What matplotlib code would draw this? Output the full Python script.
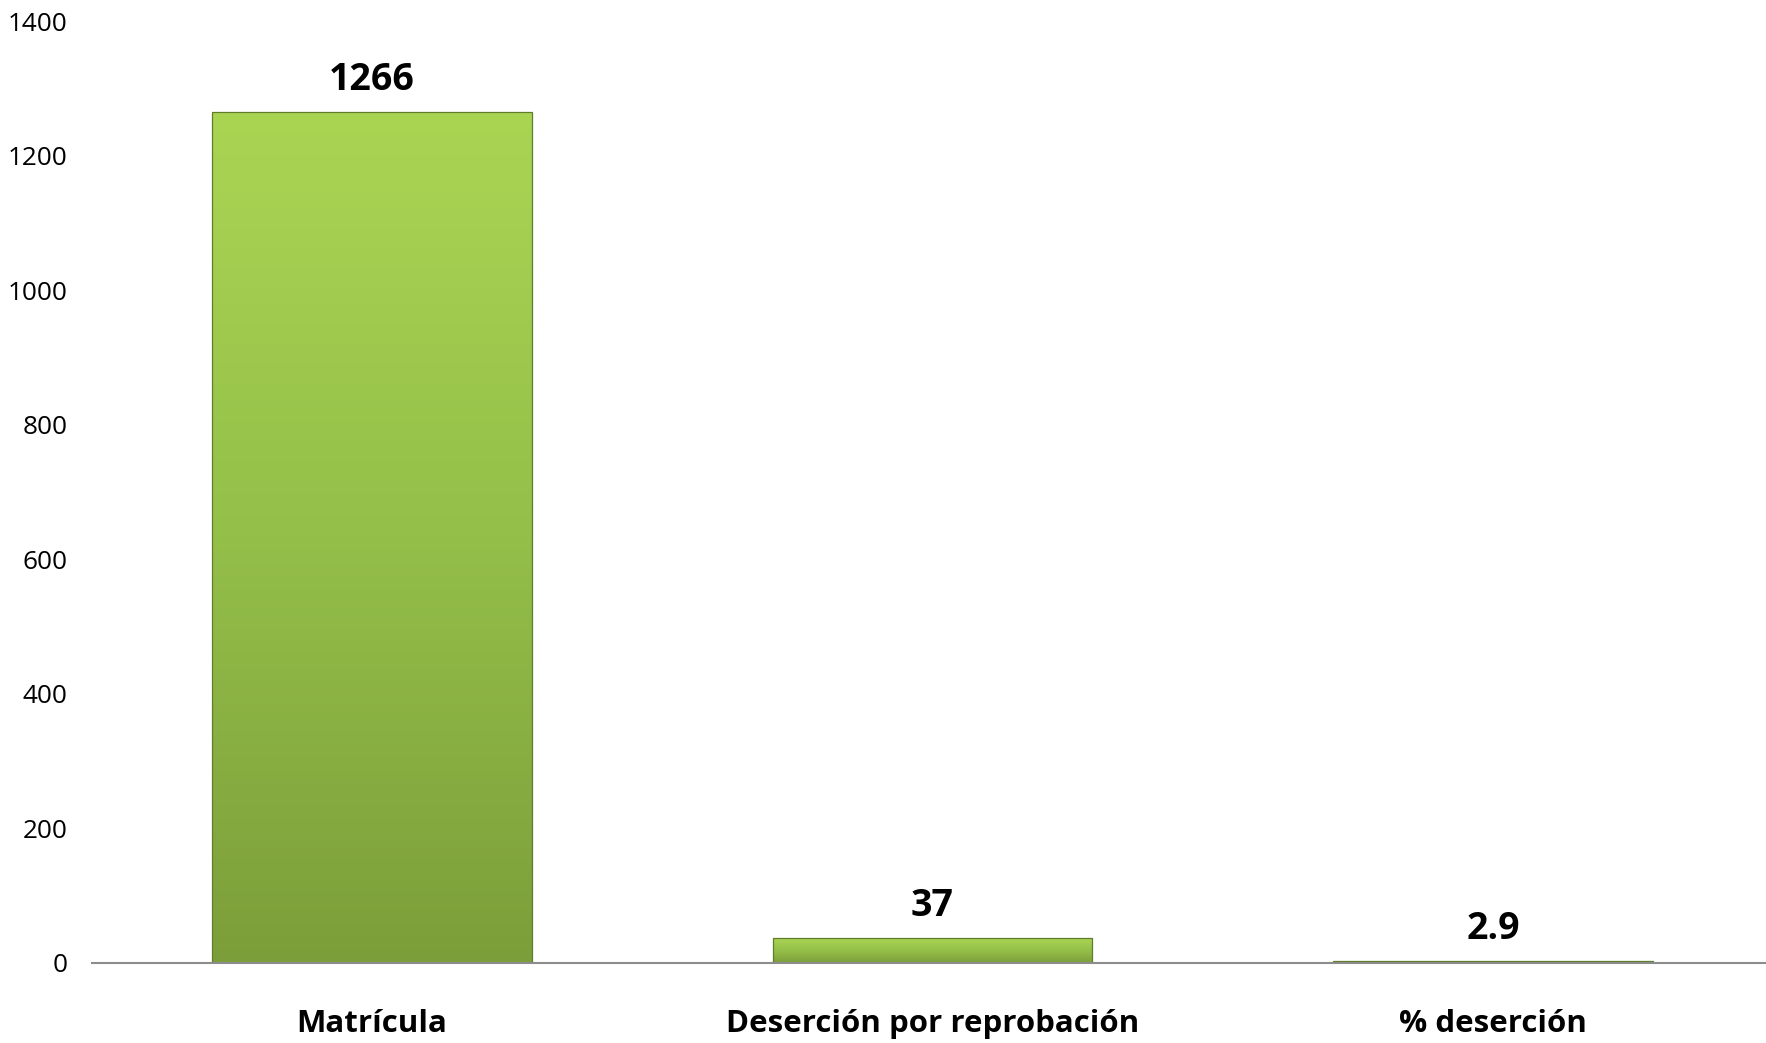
import numpy as np
import matplotlib.pyplot as plt
from matplotlib.colors import LinearSegmentedColormap

# Data
categorias = ['Matrícula', 'Deserción por reprobación', '% deserción']
valores = [1266, 37, 2.9]
etiquetas = ['1266', '37', '2.9']

plt.rcParams['font.family'] = ['Open Sans', 'DejaVu Sans']

fig = plt.figure(figsize=(17.66, 10.43), dpi=100)
ax = fig.add_axes([92/1766, 80/1043, 1681/1766, 941.6/1043])

x = np.arange(len(categorias))
ancho = 0.571
bars = ax.bar(x, valores, width=ancho, color='none', edgecolor='#5f7d2a',
              linewidth=0.9, zorder=3)

# vertical gradient, light on top, dark at bottom
cmap = LinearSegmentedColormap.from_list('verde', ['#7c9e3a', '#94bf49', '#aad553'])
grad = np.linspace(0, 1, 256).reshape(-1, 1)
for b in bars:
    x0, y0 = b.get_x(), b.get_y()
    w, h = b.get_width(), b.get_height()
    im = ax.imshow(grad, cmap=cmap, origin='lower', aspect='auto',
                   extent=[x0, x0 + w, y0, y0 + h], zorder=2)
    im.set_clip_path(b)

for xi, v, t in zip(x, valores, etiquetas):
    ax.annotate(t, (xi, v), xytext=(0, 23), textcoords='offset points',
                ha='center', va='center', fontsize=27, fontweight='bold')

ax.set_xlim(-0.5, 2.5)
ax.set_ylim(0, 1400)
ax.set_yticks(range(0, 1401, 200))
ax.set_xticks(x)
ax.set_xticklabels(categorias, fontsize=22.5, fontweight='bold')
ax.tick_params(axis='y', length=0, labelsize=18.8, pad=17.5)
ax.tick_params(axis='x', length=0, pad=33)
for s in ['top', 'right', 'left']:
    ax.spines[s].set_visible(False)
ax.spines['bottom'].set_color('#8c8c8c')
ax.spines['bottom'].set_linewidth(1.5)
ax.spines['bottom'].set_zorder(4)

fig.savefig('out.png', dpi=100)
